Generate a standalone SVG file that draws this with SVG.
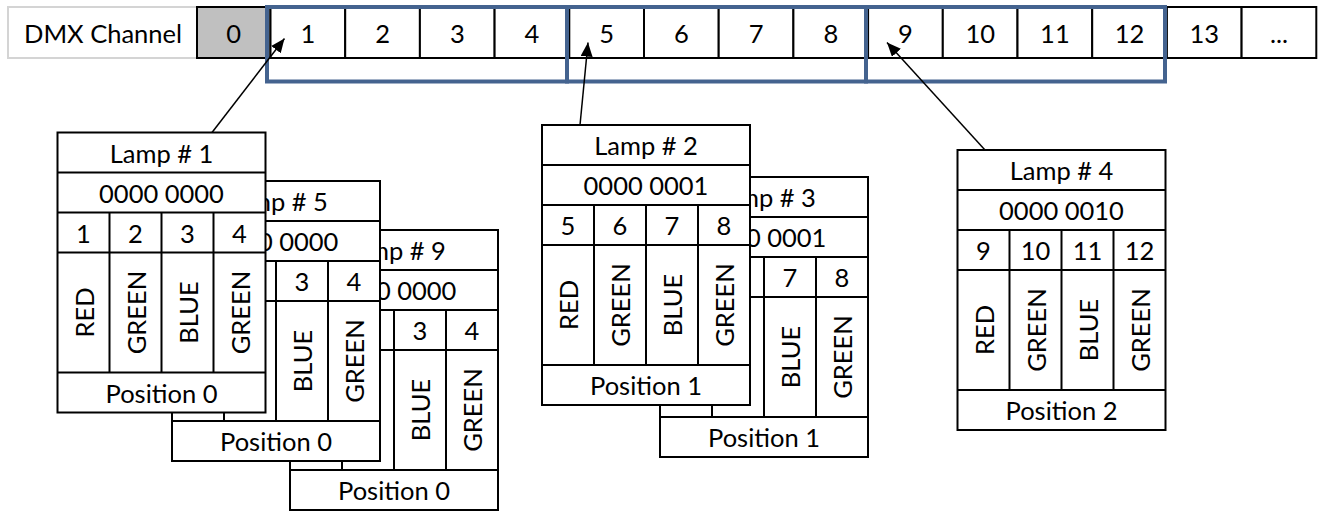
<svg xmlns="http://www.w3.org/2000/svg" width="1320" height="513" viewBox="0 0 1320 513">
<defs>
<style>
.t{font-family:Lato,"Liberation Sans",sans-serif;font-size:25.5px;text-anchor:middle;dominant-baseline:central;fill:#000}
.cell{fill:#fff;stroke:#000;stroke-width:2}
.card{fill:#fff;stroke:#000;stroke-width:2}
.ln{stroke:#000;stroke-width:2;fill:none}
.blue{fill:none;stroke:#44638f;stroke-width:4}
.arr{stroke:#000;stroke-width:1.5;fill:none;marker-end:url(#ah)}
</style>
<marker id="ah" markerUnits="userSpaceOnUse" markerWidth="14" markerHeight="12" refX="14" refY="6" orient="auto" viewBox="0 0 14 12">
<path d="M0,0 L14,6 L0,12 z" fill="#000"/>
</marker>
<clipPath id="clip5"><rect x="93.5" y="0" width="115" height="80"/></clipPath>
<clipPath id="clip9"><rect x="90" y="0" width="118" height="80"/></clipPath>
<clipPath id="clip3"><rect x="90" y="0" width="118" height="80"/></clipPath>
<g id="card">
<rect class="card" x="0" y="0" width="208" height="280"/>
<path class="ln" d="M0,40H208M0,80H208M0,120H208M0,240H208M52,80V240M104,80V240M156,80V240"/>
</g>
</defs>

<g id="channel-bar">
<rect x="8" y="7" width="189" height="51" fill="#fff" stroke="#d4d4d4" stroke-width="2"/>
<text class="t" x="103" y="33">DMX Channel</text>
<rect x="197" y="7" width="73.5" height="51" fill="#c0c0c0" stroke="#000" stroke-width="2"/>
<text class="t" x="233.7" y="33">0</text>
<rect class="cell" x="270.5" y="7" width="74.7" height="51"/>
<rect class="cell" x="345.2" y="7" width="74.7" height="51"/>
<rect class="cell" x="419.9" y="7" width="74.7" height="51"/>
<rect class="cell" x="494.6" y="7" width="74.7" height="51"/>
<rect class="cell" x="569.3" y="7" width="74.7" height="51"/>
<rect class="cell" x="644" y="7" width="74.7" height="51"/>
<rect class="cell" x="718.7" y="7" width="74.7" height="51"/>
<rect class="cell" x="793.4" y="7" width="74.7" height="51"/>
<rect class="cell" x="868.1" y="7" width="74.7" height="51"/>
<rect class="cell" x="942.8" y="7" width="74.7" height="51"/>
<rect class="cell" x="1017.5" y="7" width="74.7" height="51"/>
<rect class="cell" x="1092.2" y="7" width="74.7" height="51"/>
<rect class="cell" x="1166.9" y="7" width="74.7" height="51"/>
<rect class="cell" x="1241.6" y="7" width="74.7" height="51"/>
<text class="t" x="307.9" y="33">1</text>
<text class="t" x="382.6" y="33">2</text>
<text class="t" x="457.3" y="33">3</text>
<text class="t" x="532" y="33">4</text>
<text class="t" x="606.7" y="33">5</text>
<text class="t" x="681.4" y="33">6</text>
<text class="t" x="756.1" y="33">7</text>
<text class="t" x="830.8" y="33">8</text>
<text class="t" x="905.5" y="33">9</text>
<text class="t" x="980.2" y="33">10</text>
<text class="t" x="1054.9" y="33">11</text>
<text class="t" x="1129.6" y="33">12</text>
<text class="t" x="1204.3" y="33">13</text>
<text class="t" x="1279" y="33">...</text>
</g>

<g id="groups">
<rect class="blue" x="267" y="7" width="300" height="74.5"/>
<rect class="blue" x="567" y="7" width="299" height="74.5"/>
<rect class="blue" x="866" y="7" width="299" height="74.5"/>
</g>

<g id="lamp9" transform="translate(290,230)">
<use href="#card"/>
<g clip-path="url(#clip9)">
<text class="t" x="104" y="20">Lamp # 9</text>
<text class="t" x="104" y="60">0000 0000</text>
</g>
<text class="t" x="130" y="100">3</text><text class="t" x="182" y="100">4</text>
<text class="t" transform="translate(130,180) rotate(-90)">BLUE</text>
<text class="t" transform="translate(182,180) rotate(-90)">GREEN</text>
<text class="t" x="104" y="260">Position 0</text>
</g>

<g id="lamp5" transform="translate(172,181)">
<use href="#card"/>
<g clip-path="url(#clip5)">
<text class="t" x="104" y="20">Lamp # 5</text>
<text class="t" x="104" y="60">0000 0000</text>
</g>
<text class="t" x="130" y="100">3</text><text class="t" x="182" y="100">4</text>
<text class="t" transform="translate(130,180) rotate(-90)">BLUE</text>
<text class="t" transform="translate(182,180) rotate(-90)">GREEN</text>
<text class="t" x="104" y="260">Position 0</text>
</g>

<g id="lamp1" transform="translate(57.5,132.5)">
<use href="#card"/>
<text class="t" x="104" y="20">Lamp # 1</text>
<text class="t" x="104" y="60">0000 0000</text>
<text class="t" x="26" y="100">1</text><text class="t" x="78" y="100">2</text><text class="t" x="130" y="100">3</text><text class="t" x="182" y="100">4</text>
<text class="t" transform="translate(26,180) rotate(-90)">RED</text>
<text class="t" transform="translate(78,180) rotate(-90)">GREEN</text>
<text class="t" transform="translate(130,180) rotate(-90)">BLUE</text>
<text class="t" transform="translate(182,180) rotate(-90)">GREEN</text>
<text class="t" x="104" y="260">Position 0</text>
</g>

<g id="lamp3" transform="translate(660,177)">
<use href="#card"/>
<g clip-path="url(#clip3)">
<text class="t" x="104" y="20">Lamp # 3</text>
<text class="t" x="104" y="60">0000 0001</text>
</g>
<text class="t" x="130" y="100">7</text><text class="t" x="182" y="100">8</text>
<text class="t" transform="translate(130,180) rotate(-90)">BLUE</text>
<text class="t" transform="translate(182,180) rotate(-90)">GREEN</text>
<text class="t" x="104" y="260">Position 1</text>
</g>

<g id="lamp2" transform="translate(542,125)">
<use href="#card"/>
<text class="t" x="104" y="20">Lamp # 2</text>
<text class="t" x="104" y="60">0000 0001</text>
<text class="t" x="26" y="100">5</text><text class="t" x="78" y="100">6</text><text class="t" x="130" y="100">7</text><text class="t" x="182" y="100">8</text>
<text class="t" transform="translate(26,180) rotate(-90)">RED</text>
<text class="t" transform="translate(78,180) rotate(-90)">GREEN</text>
<text class="t" transform="translate(130,180) rotate(-90)">BLUE</text>
<text class="t" transform="translate(182,180) rotate(-90)">GREEN</text>
<text class="t" x="104" y="260">Position 1</text>
</g>

<g id="lamp4" transform="translate(957.5,150)">
<use href="#card"/>
<text class="t" x="104" y="20">Lamp # 4</text>
<text class="t" x="104" y="60">0000 0010</text>
<text class="t" x="26" y="100">9</text><text class="t" x="78" y="100">10</text><text class="t" x="130" y="100">11</text><text class="t" x="182" y="100">12</text>
<text class="t" transform="translate(26,180) rotate(-90)">RED</text>
<text class="t" transform="translate(78,180) rotate(-90)">GREEN</text>
<text class="t" transform="translate(130,180) rotate(-90)">BLUE</text>
<text class="t" transform="translate(182,180) rotate(-90)">GREEN</text>
<text class="t" x="104" y="260">Position 2</text>
</g>

<g id="connectors">
<line class="arr" x1="212" y1="132.5" x2="284.5" y2="38.5"/>
<line class="arr" x1="580" y1="125" x2="588" y2="42.5"/>
<line class="arr" x1="985" y1="150" x2="887" y2="42.5"/>
</g>
</svg>
